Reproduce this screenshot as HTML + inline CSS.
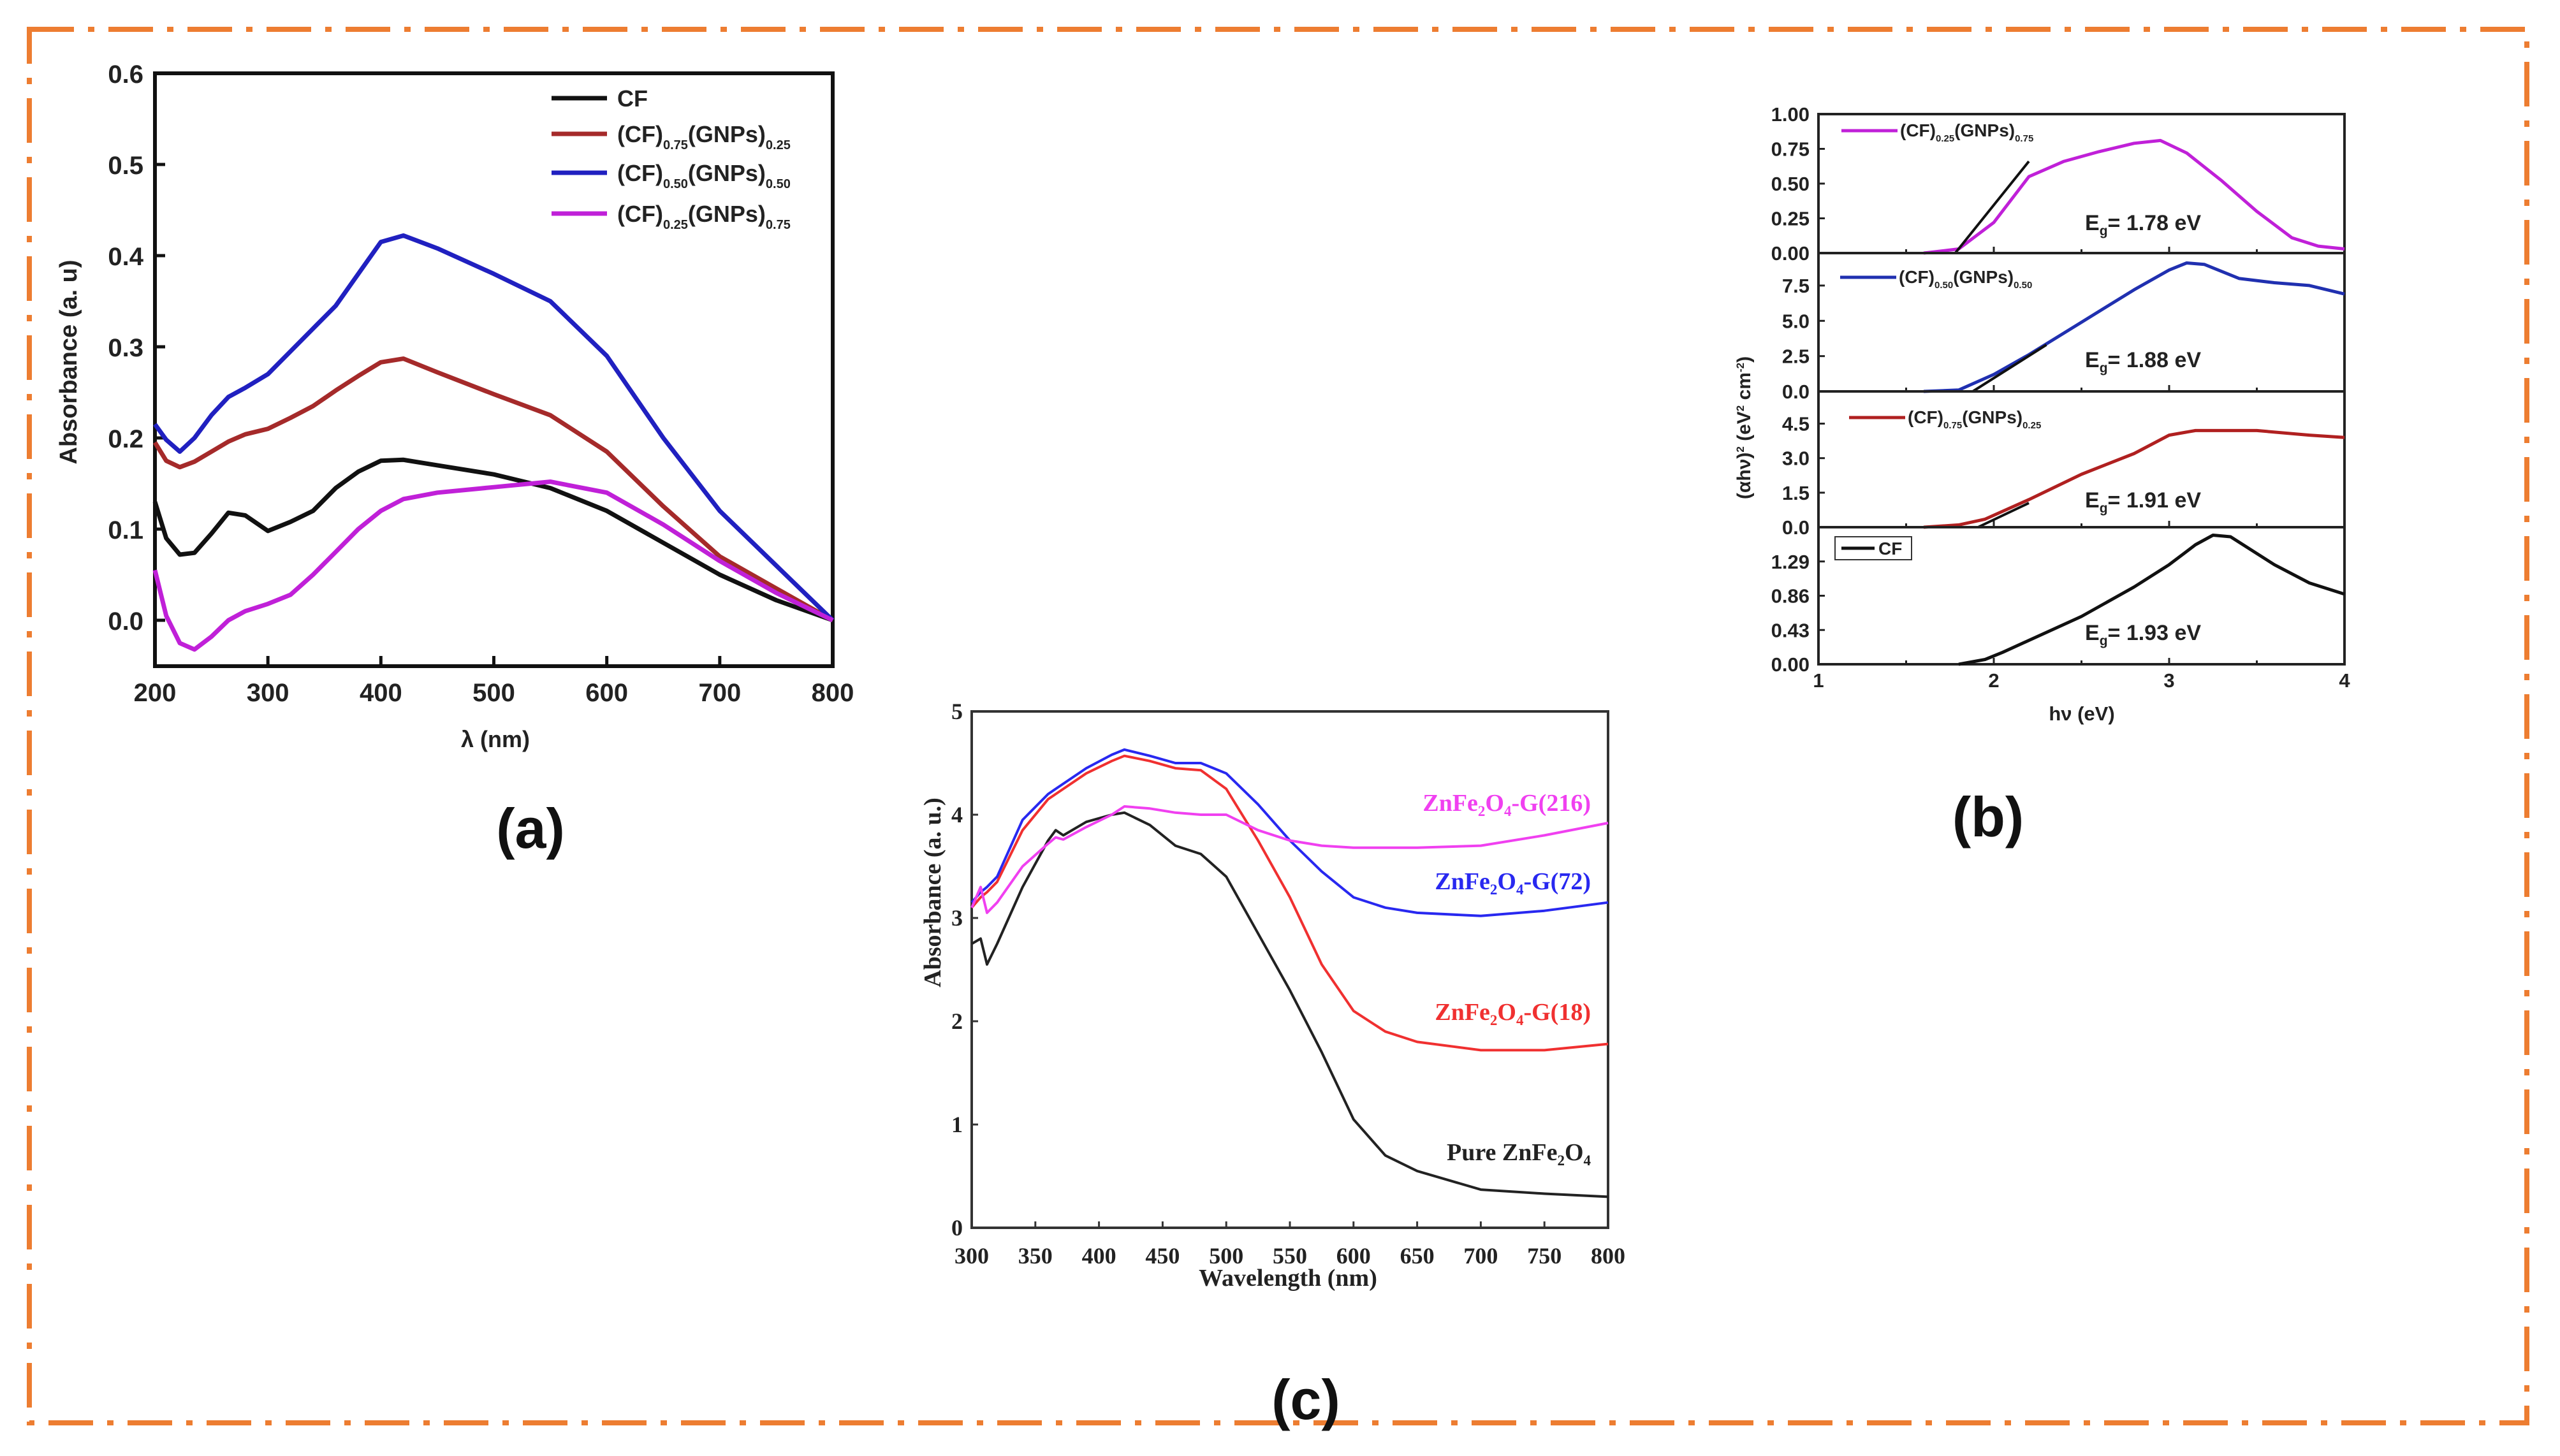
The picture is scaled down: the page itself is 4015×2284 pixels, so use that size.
<!DOCTYPE html>
<html><head><meta charset="utf-8"><style>
html,body{margin:0;padding:0;background:#fff}
svg{display:block}
.t{font-family:"Liberation Sans",sans-serif;font-weight:bold;fill:#222}
.tm{font-family:"Liberation Serif",serif;font-weight:bold;fill:#222}
</style></head><body>
<svg id="s" width="4015" height="2284" viewBox="0 0 4015 2284" xmlns="http://www.w3.org/2000/svg">
<rect x="46" y="46" width="3917" height="2186" fill="none" stroke="#ED7D31" stroke-width="8" stroke-dasharray="70 22 10 22"/>
<g id="ga"></g>
<g id="gb"></g>
<g id="gc"></g>
<text x="832" y="1330" text-anchor="middle" class="t" style="font-size:88px;fill:#111">(a)</text>
<text x="3118" y="1312" text-anchor="middle" class="t" style="font-size:88px;fill:#111">(b)</text>
<text x="2048" y="2226" text-anchor="middle" class="t" style="font-size:88px;fill:#111">(c)</text>
</svg>
<script>
// Panel (a) data
const aX = [200,210,222,235,250,265,280,300,320,340,360,380,400,420,450,500,550,600,650,700,750,800];
const aCF = [0.13,0.09,0.072,0.074,0.095,0.118,0.115,0.098,0.108,0.12,0.145,0.163,0.175,0.176,0.17,0.16,0.145,0.12,0.085,0.05,0.022,0.0];
const aR25 = [0.195,0.175,0.168,0.174,0.185,0.196,0.204,0.21,0.222,0.235,0.252,0.268,0.283,0.287,0.272,0.248,0.225,0.185,0.125,0.07,0.035,0.0];
const aR50 = [0.215,0.198,0.185,0.2,0.225,0.245,0.255,0.27,0.295,0.32,0.345,0.38,0.415,0.422,0.408,0.38,0.35,0.29,0.2,0.12,0.06,0.0];
const aR75 = [0.055,0.005,-0.025,-0.032,-0.018,0.0,0.01,0.018,0.028,0.05,0.075,0.1,0.12,0.133,0.14,0.146,0.152,0.14,0.105,0.065,0.03,0.0];
const aYTicks = [0.0,0.1,0.2,0.3,0.4,0.5,0.6];
const aXTicks = [200,300,400,500,600,700,800];
// Panel (b) data
const bX1 = [1.6,1.8,2.0,2.2,2.4,2.6,2.8,2.95,3.1,3.3,3.5,3.7,3.85,4.0];
const bY1 = [0,0.03,0.22,0.55,0.66,0.73,0.79,0.81,0.72,0.52,0.3,0.11,0.05,0.03];
const bX2 = [1.6,1.8,2.0,2.2,2.5,2.8,3.0,3.1,3.2,3.4,3.6,3.8,4.0];
const bY2 = [0,0.1,1.2,2.6,4.9,7.2,8.6,9.1,9.0,8.0,7.7,7.5,6.9];
const bX3 = [1.6,1.8,1.95,2.2,2.5,2.8,3.0,3.15,3.5,3.8,4.0];
const bY3 = [0,0.1,0.35,1.2,2.3,3.2,4.0,4.2,4.2,4.0,3.9];
const bX4 = [1.8,1.95,2.05,2.5,2.8,3.0,3.15,3.25,3.35,3.6,3.8,4.0];
const bY4 = [0,0.06,0.15,0.6,0.97,1.25,1.5,1.62,1.6,1.25,1.02,0.88];
const bTicks1 = ["0.00","0.25","0.50","0.75","1.00"];
const bTicks2 = ["0.0","2.5","5.0","7.5"];
const bTicks3 = ["0.0","1.5","3.0","4.5"];
const bTicks4 = ["0.00","0.43","0.86","1.29"];
const bXTicks = [1,2,3,4];
// Panel (c) data
const cX = [300,307,312,320,340,360,366,372,390,410,420,440,460,480,500,525,550,575,600,625,650,700,750,800];
const cPure = [2.75,2.8,2.55,2.75,3.3,3.75,3.85,3.8,3.93,4.0,4.02,3.9,3.7,3.62,3.4,2.85,2.3,1.7,1.05,0.7,0.55,0.37,0.33,0.3];
const cG18 = [3.1,3.2,3.25,3.35,3.85,4.15,4.2,4.25,4.4,4.52,4.57,4.52,4.45,4.43,4.25,3.75,3.2,2.55,2.1,1.9,1.8,1.72,1.72,1.78];
const cG72 = [3.15,3.25,3.3,3.4,3.95,4.2,4.25,4.3,4.45,4.58,4.63,4.57,4.5,4.5,4.4,4.1,3.75,3.45,3.2,3.1,3.05,3.02,3.07,3.15];
const cG216 = [3.1,3.3,3.05,3.15,3.5,3.72,3.78,3.76,3.88,4.0,4.08,4.06,4.02,4.0,4.0,3.85,3.75,3.7,3.68,3.68,3.68,3.7,3.8,3.92];
const cYTicks = [0,1,2,3,4,5];
const cXTicks = [300,350,400,450,500,550,600,650,700,750,800];

const NS="http://www.w3.org/2000/svg";
function mk(p,tag,at,txt){const e=document.createElementNS(NS,tag);for(const k in at)e.setAttribute(k,at[k]);if(txt!==undefined)e.textContent=txt;p.appendChild(e);return e;}
function path(xs,ys,sx,sy){return xs.map((x,i)=>(i?"L":"M")+sx(x).toFixed(1)+","+sy(ys[i]).toFixed(1)).join("");}

// ---------- Panel A ----------
(function(){
const g=document.getElementById('ga');
const L=243,R=1306,T=115,B=1045;
const sx=x=>L+(x-200)/600*(R-L), sy=y=>973-y*1430;
mk(g,'rect',{x:L,y:T,width:R-L,height:B-T,fill:'none',stroke:'#111','stroke-width':6});
aYTicks.forEach(v=>{const t=mk(g,'text',{x:L-18,y:sy(v)+15,'text-anchor':'end',class:'t','font-size':40},v.toFixed(1));


mk(g,'line',{x1:L,x2:L+16,y1:sy(v),y2:sy(v),stroke:'#111','stroke-width':5});});
aXTicks.forEach(v=>{const t=mk(g,'text',{x:sx(v),y:1100,'text-anchor':'middle',class:'t','font-size':40},v);


mk(g,'line',{x1:sx(v),x2:sx(v),y1:B,y2:B-16,stroke:'#111','stroke-width':5});});
const yl=mk(g,'text',{x:0,y:0,transform:'translate(120,568) rotate(-90)','text-anchor':'middle',class:'t','font-size':38},'Absorbance (a. u)');


const xl=mk(g,'text',{x:777,y:1172,'text-anchor':'middle',class:'t','font-size':36},'λ (nm)');


const ser=[[aCF,'#111','CF','',''],[aR25,'#A52A2A','(CF)','0.75','0.25'],[aR50,'#2020C0','(CF)','0.50','0.50'],[aR75,'#C020D8','(CF)','0.25','0.75']];
const ly=[154,210,271,335];
ser.forEach((s,i)=>{const p=mk(g,'path',{d:path(aX,s[0],sx,sy),fill:'none',stroke:s[1],'stroke-width':7,'stroke-linejoin':'round'});


mk(g,'line',{x1:865,x2:952,y1:ly[i],y2:ly[i],stroke:s[1],'stroke-width':7});
const t=mk(g,'text',{x:968,y:ly[i]+13,class:'t','font-size':36});


if(!s[3]){t.textContent='CF';}else{
mk(t,'tspan',{},'(CF)');mk(t,'tspan',{'font-size':20,dy:11},s[3]);mk(t,'tspan',{dy:-11},'(GNPs)');mk(t,'tspan',{'font-size':20,dy:11},s[4]);}
});
})();

// ---------- Panel B ----------
(function(){
const g=document.getElementById('gb');
const L=2852,R=3677;
const sx=x=>L+(x-1)/3*(R-L);
const subs=[
 {top:179,bot:397,max:1.0,ticks:bTicks1,xs:bX1,ys:bY1,col:'#C020D8',lab:['0.25','0.75'],eg:'1.78',tan:[1.78,0,2.2,0.66]},
 {top:397,bot:614,max:9.8,ticks:bTicks2,xs:bX2,ys:bY2,col:'#2030B0',lab:['0.50','0.50'],eg:'1.88',tan:[1.88,0,2.3,3.3]},
 {top:614,bot:827,max:5.9,ticks:bTicks3,xs:bX3,ys:bY3,col:'#B02020',lab:['0.75','0.25'],eg:'1.91',tan:[1.91,0,2.2,1.05]},
 {top:827,bot:1042,max:1.72,ticks:bTicks4,xs:bX4,ys:bY4,col:'#111',lab:null,eg:'1.93',tan:null}];
const egY=[361,576,796,1004], legY=[205,435,655,860], legX=[2888,2886,2900];
subs.forEach((s,k)=>{
 const sy=y=>s.bot-y/s.max*(s.bot-s.top);
 mk(g,'rect',{x:L,y:s.top,width:R-L,height:s.bot-s.top,fill:'none',stroke:'#222','stroke-width':4});
 s.ticks.forEach(v=>{const t=mk(g,'text',{x:L-14,y:sy(+v)+11,'text-anchor':'end',class:'t','font-size':31},v);
 
 
 mk(g,'line',{x1:L,x2:L+10,y1:sy(+v),y2:sy(+v),stroke:'#222','stroke-width':3});});
 [1.5,2,2.5,3,3.5].forEach(v=>mk(g,'line',{x1:sx(v),x2:sx(v),y1:s.bot,y2:s.bot-(v%1?6:10),stroke:'#222','stroke-width':3}));
 const p=mk(g,'path',{d:path(s.xs,s.ys,sx,sy),fill:'none',stroke:s.col,'stroke-width':5,'stroke-linejoin':'round'});
 
 
 if(s.tan){const tl=mk(g,'line',{x1:sx(s.tan[0]),y1:sy(s.tan[1]),x2:sx(s.tan[2]),y2:sy(s.tan[3]),stroke:'#111','stroke-width':4});
 
 }
 const e=mk(g,'text',{x:3270,y:egY[k],class:'t','font-size':34});
 
 
 mk(e,'tspan',{},'E');mk(e,'tspan',{'font-size':21,dy:8},'g');mk(e,'tspan',{dy:-8},'= '+s.eg+' eV');
 if(s.lab){const ly=legY[k],lx=legX[k];
  mk(g,'line',{x1:lx,x2:lx+88,y1:ly,y2:ly,stroke:s.col,'stroke-width':5});
  const t=mk(g,'text',{x:lx+92,y:ly+9,class:'t','font-size':28});
  
  
  mk(t,'tspan',{},'(CF)');mk(t,'tspan',{'font-size':15,dy:8},s.lab[0]);mk(t,'tspan',{dy:-8},'(GNPs)');mk(t,'tspan',{'font-size':15,dy:8},s.lab[1]);
 } else {
  mk(g,'rect',{x:2878,y:842,width:120,height:36,fill:'none',stroke:'#333','stroke-width':2});
  mk(g,'line',{x1:2888,x2:2940,y1:860,y2:860,stroke:'#111','stroke-width':5});
  const t=mk(g,'text',{x:2946,y:870,class:'t','font-size':28},'CF');
  
  
 }
});
bXTicks.forEach(v=>{const t=mk(g,'text',{x:sx(v),y:1078,'text-anchor':'middle',class:'t','font-size':31},v);

});
const xl=mk(g,'text',{x:3265,y:1130,'text-anchor':'middle',class:'t','font-size':31},'hν (eV)');


const yl=mk(g,'text',{x:0,y:0,transform:'translate(2745,671) rotate(-90)','text-anchor':'middle',class:'t','font-size':30,'font-weight':'normal'});


mk(yl,'tspan',{},'(αhν)');mk(yl,'tspan',{'font-size':17,dy:-10},'2');mk(yl,'tspan',{dy:10},' (eV');mk(yl,'tspan',{'font-size':17,dy:-10},'2');mk(yl,'tspan',{dy:10},' cm');mk(yl,'tspan',{'font-size':17,dy:-10},'-2');mk(yl,'tspan',{dy:10},')');
})();

// ---------- Panel C ----------
(function(){
const g=document.getElementById('gc');
const L=1524,R=2522,T=1116,B=1926;
const sx=x=>L+(x-300)/500*(R-L), sy=y=>B-y/5*(B-T);
mk(g,'rect',{x:L,y:T,width:R-L,height:B-T,fill:'none',stroke:'#333','stroke-width':4});
cYTicks.forEach(v=>{const t=mk(g,'text',{x:L-14,y:sy(v)+12,'text-anchor':'end',class:'tm','font-size':36},v);


mk(g,'line',{x1:L,x2:L+10,y1:sy(v),y2:sy(v),stroke:'#333','stroke-width':3});});
cXTicks.forEach(v=>{const t=mk(g,'text',{x:sx(v),y:1982,'text-anchor':'middle',class:'tm','font-size':36},v);


mk(g,'line',{x1:sx(v),x2:sx(v),y1:B,y2:B-10,stroke:'#333','stroke-width':3});});
const xl=mk(g,'text',{x:2020,y:2017,'text-anchor':'middle',class:'tm','font-size':38},'Wavelength (nm)');


const yl=mk(g,'text',{x:0,y:0,transform:'translate(1475,1400) rotate(-90)','text-anchor':'middle',class:'tm','font-size':38},'Absorbance (a. u.)');


const ser=[[cPure,'#222','Pure ZnFe','','1808'],[cG18,'#F03030','ZnFe','-G(18)','1588'],[cG72,'#2828F0','ZnFe','-G(72)','1383'],[cG216,'#F040F0','ZnFe','-G(216)','1260']];
ser.forEach(s=>{const p=mk(g,'path',{d:path(cX,s[0],sx,sy),fill:'none',stroke:s[1],'stroke-width':4,'stroke-linejoin':'round'});


const t=mk(g,'text',{x:2495,y:+s[4]+12,'text-anchor':'end',class:'tm','font-size':38,style:'fill:'+s[1]});


mk(t,'tspan',{},s[2]);mk(t,'tspan',{'font-size':23,dy:8},'2');mk(t,'tspan',{dy:-8},'O');mk(t,'tspan',{'font-size':23,dy:8},'4');
if(s[3])mk(t,'tspan',{dy:-8},s[3]);
});
})();
</script>
</body></html>
